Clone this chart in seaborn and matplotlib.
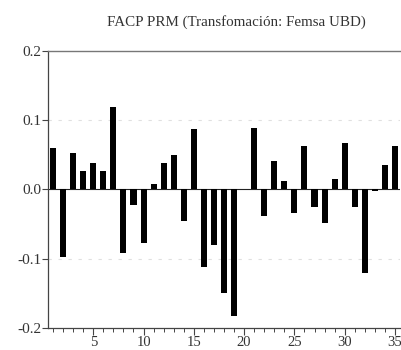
import numpy as np
import pandas as pd
import matplotlib
matplotlib.use("Agg")
import matplotlib.pyplot as plt
import seaborn as sns
from matplotlib.ticker import MultipleLocator

# Partial autocorrelation coefficients by lag
lags = list(range(1, 36))
pacf = [0.059, -0.098, 0.052, 0.027, 0.038, 0.027, 0.119, -0.092, -0.023, -0.078,
        0.007, 0.038, 0.050, -0.046, 0.087, -0.112, -0.081, -0.150, -0.182, 0.000,
        0.089, -0.038, 0.041, 0.012, -0.034, 0.062, -0.026, -0.049, 0.015, 0.067,
        -0.026, -0.121, -0.002, 0.035, 0.063]
y_ticks = [-0.2, -0.1, 0.0, 0.1, 0.2]
title = "FACP PRM (Transfomación: Femsa UBD)"

sns.set_theme(style="white")
plt.rcParams["font.family"] = ["Liberation Serif", "DejaVu Serif"]

df = pd.DataFrame({"lag": lags, "pacf": pacf})

fig = plt.figure(figsize=(4.02, 3.5), dpi=100)
ax = fig.add_axes([48 / 402, 1 - 328 / 350, (400 - 48) / 402, (328 - 50.5) / 350])

sns.barplot(data=df, x="lag", y="pacf", native_scale=True, width=0.6,
            color="black", edgecolor="black", linewidth=0, saturation=1, ax=ax)

ax.set_xlim(0.5, 35.5)
ax.set_ylim(-0.2, 0.2)
ax.set_yticks(y_ticks)
ax.set_yticklabels([f"{v:.1f}" for v in y_ticks])
ax.xaxis.set_major_locator(MultipleLocator(5))
ax.xaxis.set_minor_locator(MultipleLocator(1))
ax.set_xlabel("")
ax.set_ylabel("")

# reference lines
ax.axhline(0.0, color="#222222", lw=0.8, zorder=0)
for v in (0.1, -0.1):
    ax.axhline(v, color="#e0e0e0", lw=0.8, ls=(0, (3, 6)), zorder=0)

for side in ("left", "bottom"):
    ax.spines[side].set_color("#444444")
    ax.spines[side].set_linewidth(0.9)
ax.spines["top"].set_color("#777777")
ax.spines["top"].set_linewidth(1.0)
ax.spines["right"].set_visible(False)

ax.tick_params(axis="y", which="major", direction="out", length=4, width=0.8,
               color="#444444", labelsize=11, labelcolor="#333333", pad=1, left=True)
ax.tick_params(axis="x", which="major", direction="out", length=5, width=0.8,
               color="#444444", labelsize=10.5, labelcolor="#333333", pad=0.5, bottom=True)
ax.tick_params(axis="x", which="minor", direction="out", length=3, width=0.7,
               color="#444444", bottom=True)

fig.text(236 / 402, 1 - 22 / 350, title, ha="center", va="center",
         fontsize=10.8, color="#333333")

fig.savefig("out.png", dpi=100)
